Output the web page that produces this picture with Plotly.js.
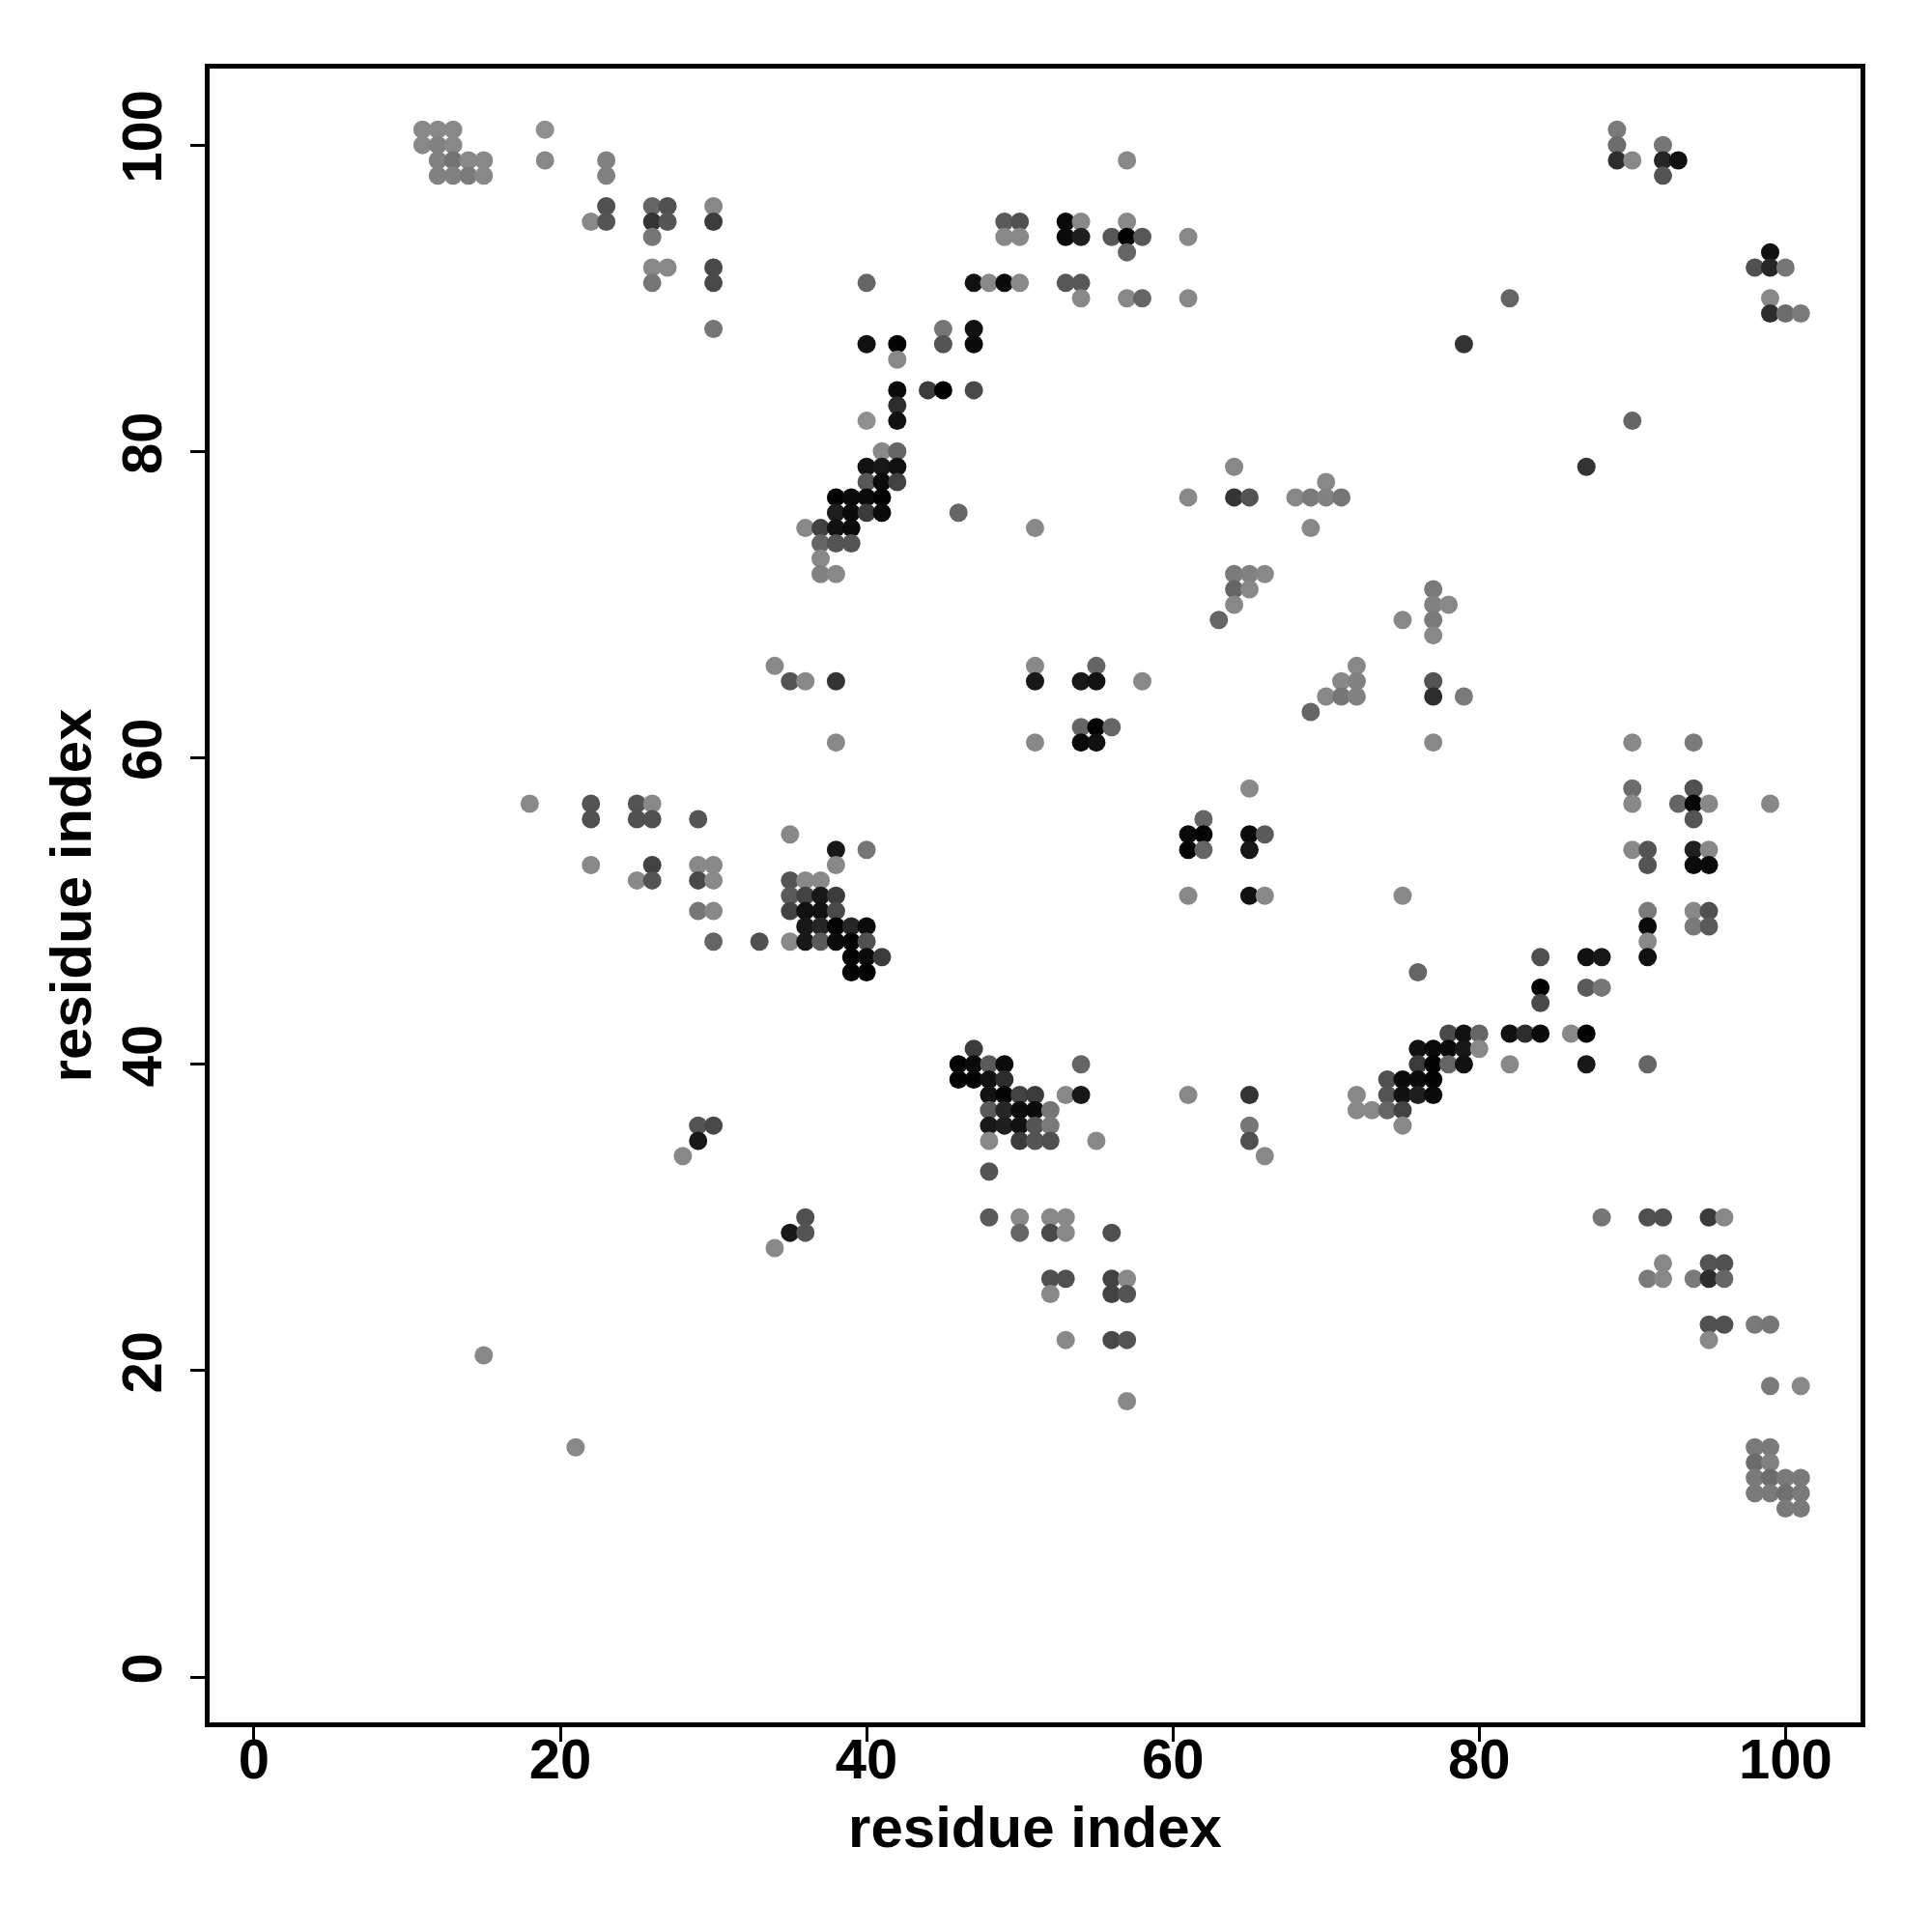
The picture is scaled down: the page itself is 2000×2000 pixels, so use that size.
<!DOCTYPE html>
<html>
<head>
<meta charset="utf-8">
<script src="https://cdn.plot.ly/plotly-3.0.1.min.js"></script>
<style>html,body{margin:0;padding:0;background:#fff;}#chart{width:2000px;height:2000px;}</style>
</head>
<body>
<div id="chart"></div>
<script>
// residue i (x), residue j (y), contact score (0 = light grey, 1 = black)
const resX = [
  11,12,13,19,89,
  11,12,13,89,92,
  12,13,14,15,19,23,57,89,90,92,93,
  12,13,14,15,23,92,
  23,26,27,30,
  22,23,26,27,30,49,50,53,54,57,
  26,49,50,53,54,56,57,58,61,
  57,99,
  26,27,30,98,99,100,
  26,30,40,47,48,49,50,53,54,
  54,57,58,61,82,99,
  99,100,101,
  30,45,47,
  40,42,45,47,79,
  42,
  42,44,45,47,
  42,
  40,42,90,
  41,42,
  40,41,42,64,87,
  40,41,42,70,
  38,39,40,41,61,64,65,68,69,70,71,
  38,39,40,41,46,
  36,37,38,39,51,69,
  37,38,39,
  37,
  37,38,64,65,66,
  64,65,77,
  64,77,78,
  63,75,77,
  77,
  34,51,55,72,
  35,36,38,51,54,55,58,71,72,77,
  70,71,72,77,79,
  69,
  54,55,56,
  38,51,54,55,77,90,94,
  65,90,94,
  18,22,25,26,90,93,94,95,99,
  22,25,26,29,62,94,
  35,61,62,65,66,
  38,40,61,62,65,90,91,94,95,
  22,26,29,30,38,91,94,95,
  25,26,29,30,35,36,37,
  35,36,37,38,61,65,66,75,
  29,30,35,36,37,38,91,94,95,
  36,37,38,39,40,91,94,95,
  30,33,35,36,37,38,39,40,91,
  39,40,41,84,87,88,91,
  39,40,76,
  84,87,88,
  84,
  78,79,80,82,83,84,86,87,
  47,76,77,78,79,80,
  46,47,48,49,54,76,77,78,79,82,87,91,
  46,47,48,49,74,75,76,77,
  48,49,50,51,53,54,61,65,72,74,75,76,77,
  48,49,50,51,52,72,73,74,75,
  29,30,48,49,50,51,52,65,75,
  29,48,50,51,52,55,65,
  28,66,
  48,
  36,48,50,52,53,88,91,92,95,96,
  35,36,50,52,53,56,
  34,
  92,95,96,
  52,53,56,57,91,92,94,95,96,
  52,56,57,
  95,96,98,99,
  53,56,57,95,
  15,
  99,101,
  57,
  21,98,99,
  98,99,
  98,99,100,101,
  98,99,100,101,
  100,101
];
const resY = [
  101,101,101,101,101,
  100,100,100,100,100,
  99,99,99,99,99,99,99,99,99,99,99,
  98,98,98,98,98,98,
  96,96,96,96,
  95,95,95,95,95,95,95,95,95,95,
  94,94,94,94,94,94,94,94,94,
  93,93,
  92,92,92,92,92,92,
  91,91,91,91,91,91,91,91,91,
  90,90,90,90,90,90,
  89,89,89,
  88,88,88,
  87,87,87,87,87,
  86,
  84,84,84,84,
  83,
  82,82,82,
  80,80,
  79,79,79,79,79,
  78,78,78,78,
  77,77,77,77,77,77,77,77,77,77,77,
  76,76,76,76,76,
  75,75,75,75,75,75,
  74,74,74,
  73,
  72,72,72,72,72,
  71,71,71,
  70,70,70,
  69,69,69,
  68,
  66,66,66,66,
  65,65,65,65,65,65,65,65,65,65,
  64,64,64,64,64,
  63,
  62,62,62,
  61,61,61,61,61,61,61,
  58,58,58,
  57,57,57,57,57,57,57,57,57,
  56,56,56,56,56,56,
  55,55,55,55,55,
  54,54,54,54,54,54,54,54,54,
  53,53,53,53,53,53,53,53,
  52,52,52,52,52,52,52,
  51,51,51,51,51,51,51,51,
  50,50,50,50,50,50,50,50,50,
  49,49,49,49,49,49,49,49,
  48,48,48,48,48,48,48,48,48,
  47,47,47,47,47,47,47,
  46,46,46,
  45,45,45,
  44,
  42,42,42,42,42,42,42,42,
  41,41,41,41,41,41,
  40,40,40,40,40,40,40,40,40,40,40,40,
  39,39,39,39,39,39,39,39,
  38,38,38,38,38,38,38,38,38,38,38,38,38,
  37,37,37,37,37,37,37,37,37,
  36,36,36,36,36,36,36,36,36,
  35,35,35,35,35,35,35,
  34,34,
  33,
  30,30,30,30,30,30,30,30,30,30,
  29,29,29,29,29,29,
  28,
  27,27,27,
  26,26,26,26,26,26,26,26,26,
  25,25,25,
  23,23,23,23,
  22,22,22,22,
  21,
  19,19,
  18,
  15,15,15,
  14,14,
  13,13,13,13,
  12,12,12,12,
  11,11
];
const score = [
  .05,.05,.05,0,.15,
  .05,.1,.05,.25,.18,
  .1,.2,.05,.05,.05,.1,.05,.7,.05,.75,.9,
  .1,.1,.15,.05,.1,.42,
  .45,.3,.45,.05,
  .05,.42,.65,.42,.6,.38,.45,.95,.05,.05,
  .18,.05,.05,.95,.8,.4,1,.4,.05,
  .3,.9,
  .05,.05,.5,.45,.75,.18,
  .18,.5,.3,.9,.05,.95,.05,.4,.4,
  .05,.05,.3,.05,.3,.05,
  .7,.25,.15,
  .18,.18,.9,
  .9,1,.42,.95,.65,
  .05,
  .95,.6,1,.5,
  .7,
  0,.9,.3,
  .05,.3,
  .9,.85,.9,.05,.65,
  .4,.95,.55,.05,
  1,.95,.95,1,.05,.65,.42,.05,.15,.1,.18,
  .8,.95,.6,.95,.3,
  .05,.55,.9,.95,.05,.05,
  .3,.42,.42,
  .05,
  .1,.05,.15,.1,.05,
  .3,.05,.15,
  .05,.1,.05,
  .3,.05,.15,
  .05,
  .05,.05,.3,.05,
  .42,.05,.65,.85,.85,.9,.05,.05,.1,.42,
  .05,.18,.1,.7,.15,
  .3,
  .3,1,.3,
  .05,.05,.95,.9,.05,.05,.15,
  .05,.25,.45,
  .05,.42,.42,.05,.05,.3,1,.05,.05,
  .45,.45,.45,.42,.3,.42,
  .05,.95,1,.95,.38,
  .85,.18,1,.3,.85,.05,.42,.8,.05,
  .05,.55,.05,.05,.05,.42,.95,.95,
  .05,.42,.5,.05,.42,.05,.05,
  .38,.55,.85,.6,.05,.9,.05,.05,
  .18,.05,.55,.9,.9,.5,.15,.05,.45,
  .85,.75,1,.75,.95,.95,.15,.38,
  .3,.45,.05,.85,.38,.95,1,.45,.05,
  1,.95,.6,.45,.9,.85,.9,
  1,1,.3,
  1,.38,.18,
  .5,
  .5,.9,.3,.9,.7,.95,.05,1,
  .6,.9,.95,.95,.85,.05,
  1,.95,.38,.95,.3,.6,1,.3,.9,.05,.85,.3,
  1,1,.9,.7,.45,.95,.95,1,
  .9,1,.55,.6,.05,.85,.05,.65,.05,.42,.9,.8,.95,
  .38,.75,.95,.95,.18,.05,.05,.3,.55,
  .42,.5,.85,.8,.9,.42,.15,.18,.05,
  .85,.05,.6,.42,.45,.05,.45,
  .05,.05,
  .42,
  .45,.38,.05,.05,.05,.18,.45,.45,.6,.05,
  .85,.42,.3,.5,.05,.45,
  .05,
  .05,.42,.45,
  .45,.45,.55,.05,.15,.05,.15,.7,.3,
  .05,.55,.42,
  .45,.45,.15,.18,
  .05,.5,.42,.05,
  .05,
  .15,.05,
  .05,
  .05,.15,.15,
  .25,.1,
  .15,.25,.15,.15,
  .15,.15,.22,.15,
  .15,.15
];
const tickValues = [0, 20, 40, 60, 80, 100];
const axisLabel = 'residue index';

const fontFam = 'Liberation Sans, Arial, Helvetica, sans-serif';
const trace = {
  type: 'scatter', mode: 'markers', x: resX, y: resY,
  marker: {
    size: 19, color: score, cmin: 0, cmax: 1, showscale: false,
    colorscale: [[0, 'rgb(143,143,143)'], [1, 'rgb(3,3,3)']],
    line: {width: 0}
  },
  hoverinfo: 'x+y'
};
const axisBase = {
  tickvals: tickValues, ticktext: tickValues.map(String),
  ticks: 'outside', ticklen: 15, tickwidth: 3, tickcolor: '#000',
  showline: true, linewidth: 5, linecolor: '#000', mirror: true,
  showgrid: false, zeroline: false, automargin: false,
  tickfont: {family: fontFam, size: 58, color: '#000', weight: 'bold'}
};
const layout = {
  width: 2000, height: 2000,
  paper_bgcolor: '#fff', plot_bgcolor: '#fff',
  margin: {l: 217, r: 74, t: 71, b: 217},
  showlegend: false,
  xaxis: Object.assign({}, axisBase, {
    range: [-2.9, 104.9], ticklabelstandoff: -32,
    title: {text: axisLabel, standoff: 20, font: {family: fontFam, size: 60, color: '#000', weight: 'bold'}}
  }),
  yaxis: Object.assign({}, axisBase, {
    range: [-2.96, 104.99], tickangle: -90, ticklabelstandoff: 7,
    title: {text: axisLabel, standoff: 1, font: {family: fontFam, size: 60, color: '#000', weight: 'bold'}}
  })
};
Plotly.newPlot('chart', [trace], layout, {displayModeBar: false, staticPlot: true});
</script>
</body>
</html>
